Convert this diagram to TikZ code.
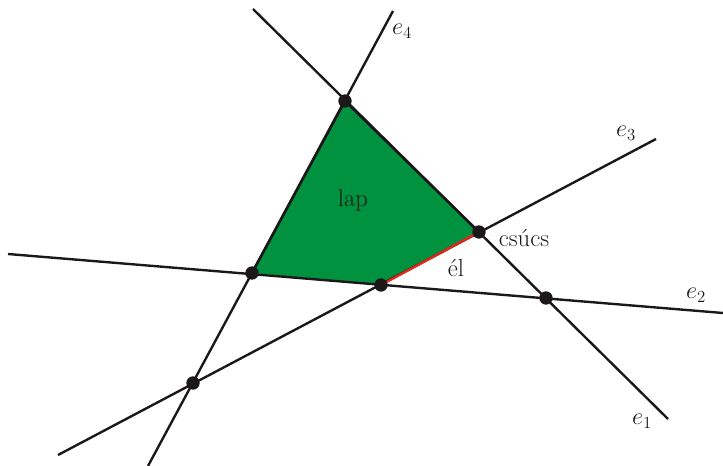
\documentclass[tikz,border=0pt]{standalone}
\usepackage{tikz}
\usetikzlibrary{positioning}
\definecolor{ink}{RGB}{28,24,26}
\definecolor{lapgreen}{RGB}{0,146,63}
\definecolor{elred}{RGB}{232,38,28}

\begin{document}
\begin{tikzpicture}[x=0.025cm,y=-0.025cm,line width=1.7pt,
  font=\fontsize{17.5}{21}\selectfont,
  vtx/.style={circle,fill=ink,inner sep=0pt,minimum size=9.5pt},
  lbl/.style={inner sep=1pt,text=ink}]
 \useasboundingbox (0,0) rectangle (723,466);
 % line ends
 \coordinate (a1) at (253,9);   \coordinate (b1) at (668,419);
 \coordinate (a2) at (8,254);   \coordinate (b2) at (723,313);
 \coordinate (a3) at (58,455);  \coordinate (b3) at (656,139);
 \coordinate (a4) at (148,466); \coordinate (b4) at (393,11);
 % vertices of the arrangement
 \coordinate (p14) at (345,101);
 \coordinate (p13) at (479,232);
 \coordinate (p12) at (546,298);
 \coordinate (p24) at (252,273);
 \coordinate (p23) at (381,285);
 \coordinate (p34) at (193,383);
 % face
 \fill[lapgreen] (p24)--(p14)--(p13)--(p23)--cycle;
 % lines
 \draw[ink] (a1)--(b1);
 \draw[ink] (a2)--(b2);
 \draw[ink] (a3)--(b3);
 \draw[ink] (a4)--(b4);
 \draw[ink] (p24)--(p14)--(p13);
 % edge
 \draw[elred] (p23)--(p13);
 % vertices
 \foreach \p in {p14,p13,p12,p24,p23,p34}
   \node[vtx] (v\p) at (\p) {};
 % labels
 \node[lbl] (l1) at (642,421) {$e_1$};
 \node[lbl] (l2) at (696,295) {$e_2$};
 \node[lbl] (l3) at (626,133) {$e_3$};
 \node[lbl] (l4) at (402,31) {$e_4$};
 \node[lbl] (lap) at (353,200) {lap};
 \node[lbl] (csucs) at (524,238) {csúcs};
 \node[lbl] (el) at (456,268) {él};
\end{tikzpicture}
\end{document}
